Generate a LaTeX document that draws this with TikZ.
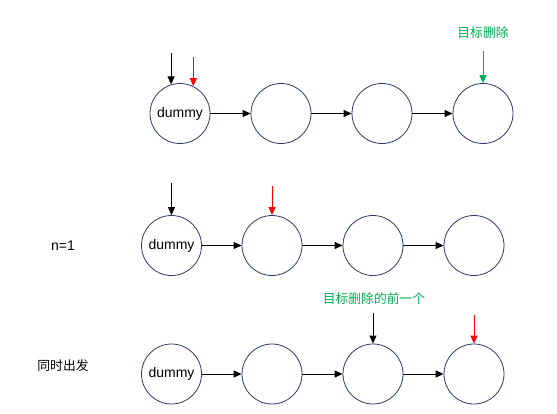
\documentclass[tikz,border=0pt]{standalone}
\usepackage{fontspec}
\setmainfont{Liberation Sans}
\newfontfamily\cjk{Noto Sans CJK SC}
\usetikzlibrary{arrows.meta}
\definecolor{ringblue}{HTML}{2C3A66}
\definecolor{markgreen}{HTML}{00B050}
\tikzset{
  listnode/.style={circle,draw=ringblue,line width=0.8pt,minimum size=60pt,inner sep=0pt,
    font=\fontsize{14}{16}\selectfont},
  note/.style={font=\cjk\fontsize{12.8}{15}\selectfont},
  ptr/.style={-{Triangle[length=8pt,width=7pt]},line width=0.9pt},
}
\begin{document}
\begin{tikzpicture}[x=1pt,y=-1pt]
      \useasboundingbox (0,0) rectangle (557,413);
      \draw
        (180,113.5) node[listnode] (a0){dummy}
        (281,113.5) node[listnode] (a1){}
        (382,113.5) node[listnode] (a2){}
        (483,113.5) node[listnode] (a3){}
        (483,33) node[note,text=markgreen] (del){目标删除};
      \draw
        (171.5,245.5) node[listnode] (b0){dummy}
        (272,245.5) node[listnode] (b1){}
        (373,245.5) node[listnode] (b2){}
        (474,245.5) node[listnode] (b3){}
        (63,246) node[font=\fontsize{14}{16}\selectfont] (n1){n=1};
      \draw
        (171.5,374) node[listnode] (c0){dummy}
        (272,374) node[listnode] (c1){}
        (373,374) node[listnode] (c2){}
        (474,374) node[listnode] (c3){}
        (63,366) node[note] (same){同时出发}
        (374,299) node[note,text=markgreen] (prev){目标删除的前一个};
      \coordinate (s0) at ([yshift=31pt]a0.107);
      \coordinate (f0) at ([yshift=29pt]a0.64);
      \coordinate (g0) at ([yshift=32pt]a3.north);
      \coordinate (s1) at ([yshift=32pt]b0.north);
      \coordinate (f1) at ([yshift=29pt]b1.north);
      \coordinate (s2) at ([yshift=31pt]c2.north);
      \coordinate (f2) at ([yshift=29pt]c3.north);
      \begin{scope}[ptr]
        \draw (a0) to (a1);
        \draw (a1) to (a2);
        \draw (a2) to (a3);
        \draw (b0) to (b1);
        \draw (b1) to (b2);
        \draw (b2) to (b3);
        \draw (c0) to (c1);
        \draw (c1) to (c2);
        \draw (c2) to (c3);
        \draw (s0) to (a0.107);
        \draw[red] (f0) to (a0.64);
        \draw[markgreen] (g0) to (a3.north);
        \draw (s1) to (b0.north);
        \draw[red] (f1) to (b1.north);
        \draw (s2) to (c2.north);
        \draw[red] (f2) to (c3.north);
      \end{scope}
    \end{tikzpicture}
\end{document}
